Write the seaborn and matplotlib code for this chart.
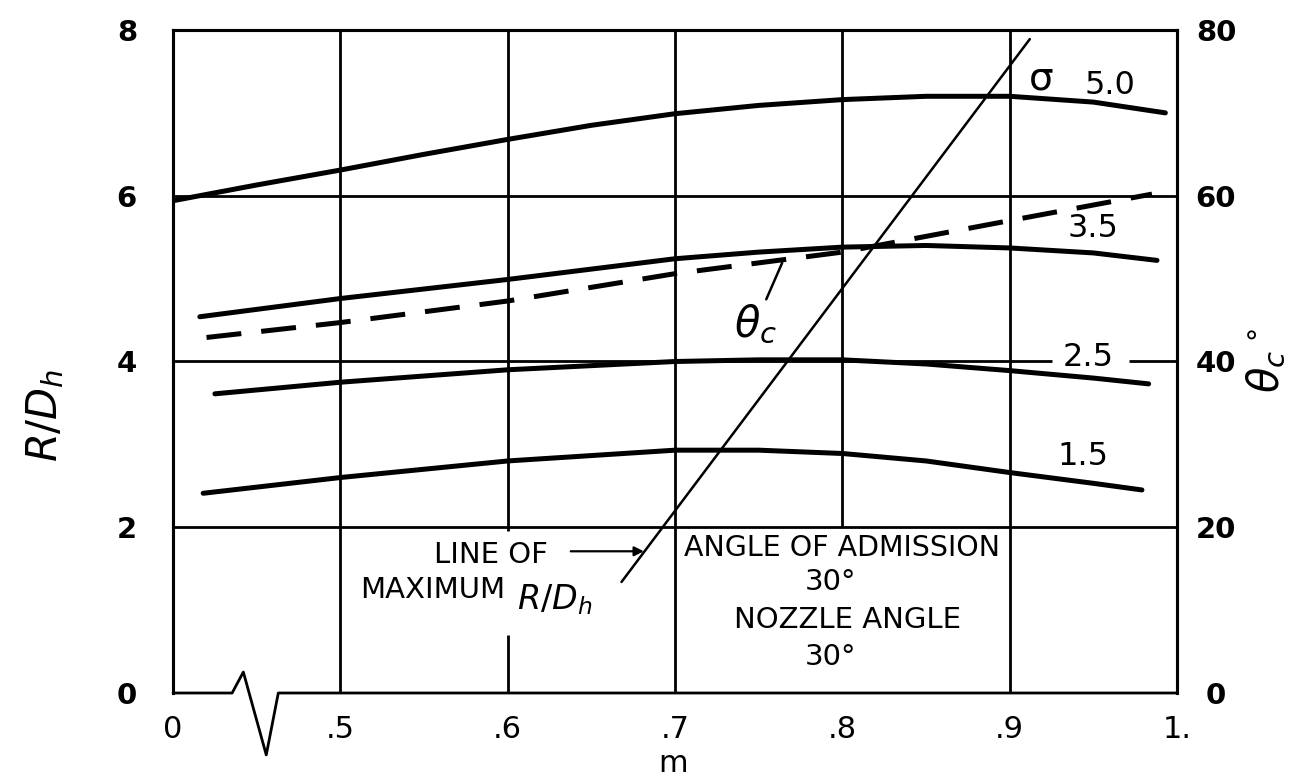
import matplotlib
matplotlib.use("Agg")
import matplotlib.pyplot as plt
import seaborn as sns
import pandas as pd

# -----------------------------
# Data (m on a broken axis: the left edge "0" sits where m=0.4 would be)
# -----------------------------
m_50 = [0.40, 0.45, 0.50, 0.55, 0.60, 0.65, 0.70, 0.75, 0.80, 0.85, 0.90, 0.95, 0.993]
rd_50 = [5.94, 6.13, 6.31, 6.50, 6.68, 6.85, 6.99, 7.09, 7.16, 7.20, 7.20, 7.13, 7.00]

m_35 = [0.416, 0.50, 0.60, 0.70, 0.75, 0.80, 0.85, 0.90, 0.95, 0.988]
rd_35 = [4.54, 4.76, 4.99, 5.24, 5.32, 5.38, 5.40, 5.37, 5.31, 5.22]

m_25 = [0.425, 0.50, 0.60, 0.70, 0.75, 0.80, 0.85, 0.90, 0.95, 0.983]
rd_25 = [3.61, 3.75, 3.90, 4.00, 4.02, 4.02, 3.97, 3.89, 3.80, 3.73]

m_15 = [0.418, 0.50, 0.60, 0.70, 0.75, 0.80, 0.85, 0.90, 0.95, 0.979]
rd_15 = [2.41, 2.60, 2.80, 2.93, 2.93, 2.89, 2.80, 2.66, 2.53, 2.45]

m_theta = [0.42, 0.50, 0.60, 0.70, 0.80, 0.90, 0.985]
theta_c = [42.9, 44.7, 47.3, 50.6, 53.2, 57.0, 60.2]

m_maxline = [0.668, 0.912]
rd_maxline = [1.34, 7.89]

x_ticks = [0.4, 0.5, 0.6, 0.7, 0.8, 0.9, 1.0]
x_labels = ["0", ".5", ".6", ".7", ".8", ".9", "1."]
y_ticks = [0, 2, 4, 6, 8]
y2_ticks = [0, 20, 40, 60, 80]

# -----------------------------
# Figure
# -----------------------------
sns.set_style("white")
plt.rcParams["font.family"] = ["DejaVu Sans"]
plt.rcParams["text.color"] = "black"
plt.rcParams["xtick.color"] = "black"
plt.rcParams["ytick.color"] = "black"
plt.rcParams["axes.labelcolor"] = "black"

fig = plt.figure(figsize=(13.08, 7.77), dpi=100)
ax = fig.add_axes([0.1323, 0.1081, 0.7676, 0.8533])
ax2 = ax.twinx()

black = "black"
lw_curve = 3.6

for mm, rr in [(m_50, rd_50), (m_35, rd_35), (m_25, rd_25), (m_15, rd_15)]:
    df = pd.DataFrame({"m": mm, "rd": rr})
    sns.lineplot(data=df, x="m", y="rd", ax=ax, color=black, lw=lw_curve,
                 solid_capstyle="round", zorder=3)

df_max = pd.DataFrame({"m": m_maxline, "rd": rd_maxline})
sns.lineplot(data=df_max, x="m", y="rd", ax=ax, color=black, lw=1.8, zorder=3)

df_th = pd.DataFrame({"m": m_theta, "theta": theta_c})
sns.lineplot(data=df_th, x="m", y="theta", ax=ax2, color=black, lw=lw_curve,
             zorder=3)
ax2.lines[-1].set_dashes((7, 4))

# grid lines (drawn by hand to leave the gaps of the original)
gl = dict(color=black, lw=2.0, zorder=1)
ax.vlines(0.5, 0, 8, **gl)
ax.vlines(0.6, 0, 0.70, **gl)
ax.vlines(0.6, 1.96, 8, **gl)
ax.vlines(0.7, 0, 8, **gl)
ax.vlines(0.8, 2, 8, **gl)
ax.vlines(0.9, 0, 8, **gl)
ax.hlines(2, 0.4, 1.0, **gl)
ax.hlines(4, 0.4, 0.925, **gl)
ax.hlines(4, 0.971, 1.0, **gl)
ax.hlines(6, 0.4, 1.0, **gl)

ax.set_xlim(0.4, 1.0)
ax.set_ylim(0, 8)
ax2.set_ylim(0, 80)

ax.set_xticks(x_ticks)
ax.set_xticklabels(x_labels)
ax.set_yticks(y_ticks)
ax2.set_yticks(y2_ticks)
ax.tick_params(axis="x", length=0, pad=16, labelsize=22)
ax.tick_params(axis="y", length=0, pad=26, labelsize=21)
ax2.tick_params(axis="y", length=0, pad=28, labelsize=21)
for t in ax.get_yticklabels() + ax2.get_yticklabels():
    t.set_fontweight("bold")
for t in ax2.get_yticklabels():
    t.set_horizontalalignment("center")

ax.set_xlabel("")
ax.set_ylabel("")
ax2.set_ylabel("")

for a in (ax, ax2):
    for s in a.spines.values():
        s.set_linewidth(2.2)
        s.set_color(black)
    a.spines["bottom"].set_visible(False)

# bottom axis with the break symbol
brk_x = [0.4, 0.4353, 0.442, 0.4557, 0.4629, 1.0]
brk_y = [0, 0, 0.253, -0.747, 0, 0]
ax.plot(brk_x, brk_y, color=black, lw=2.0, clip_on=False, zorder=4)

# axis titles
fig.text(673 / 1308, 1 - 764 / 777, "m", fontsize=22, ha="center", va="center")
fig.text(45 / 1308, 1 - 415 / 777, r"$R/D_h$", rotation=90, fontsize=30,
         ha="center", va="center")
fig.text(1266 / 1308, 1 - 360 / 777, r"$\theta_c\,^{\circ}$", rotation=90,
         fontsize=30, ha="center", va="center")

# curve labels
ax.text(0.919, 7.42, "σ", fontsize=28, ha="center", va="center")
ax.text(0.960, 7.33, "5.0", fontsize=23, ha="center", va="center")
ax.text(0.950, 5.60, "3.5", fontsize=23, ha="center", va="center")
ax.text(0.947, 4.05, "2.5", fontsize=23, ha="center", va="center")
ax.text(0.944, 2.85, "1.5", fontsize=23, ha="center", va="center")

ax.annotate(r"$\theta_c$", xy=(0.764, 5.19), xytext=(0.748, 4.45),
            fontsize=30, ha="center", va="center",
            arrowprops=dict(arrowstyle="-", lw=1.8, color=black,
                            shrinkA=0, shrinkB=0))

# notes in the lower band
ax.annotate("", xy=(0.683, 1.71), xytext=(0.636, 1.71),
            arrowprops=dict(arrowstyle="-|>", lw=1.6, color=black,
                            mutation_scale=14))
ax.text(0.590, 1.66, "LINE OF", fontsize=21, ha="center", va="center")
ax.text(0.555, 1.24, "MAXIMUM", fontsize=21, ha="center", va="center")
ax.text(0.628, 1.13, r"$R/D_h$", fontsize=24, ha="center", va="center")

ax.text(0.800, 1.75, "ANGLE OF ADMISSION", fontsize=20.5, ha="center", va="center")
ax.text(0.793, 1.34, "30°", fontsize=21, ha="center", va="center")
ax.text(0.803, 0.88, "NOZZLE ANGLE", fontsize=21, ha="center", va="center")
ax.text(0.793, 0.43, "30°", fontsize=21, ha="center", va="center")

plt.savefig("out.png", dpi=100)
